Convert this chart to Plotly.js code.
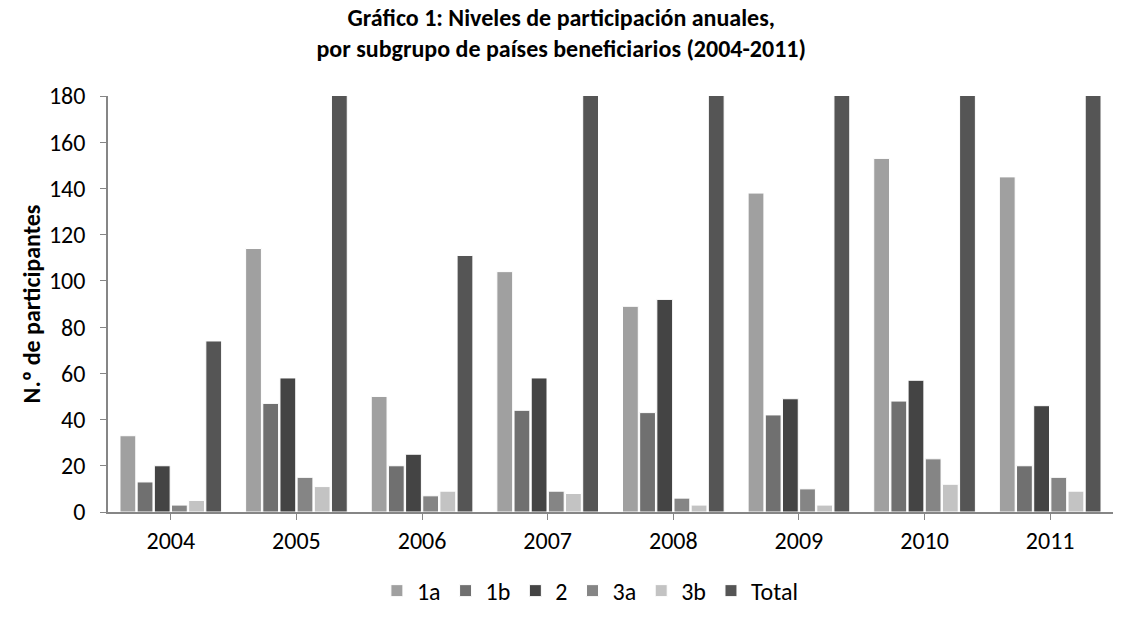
<!DOCTYPE html>
<html><head><meta charset="utf-8">
<script src="https://cdn.plot.ly/plotly-3.0.1.min.js"></script>
<style>body{margin:0;background:#fff}#c{width:1124px;height:630px}</style>
</head><body><div id="c"></div>
<script>
const years = ['2004','2005','2006','2007','2008','2009','2010','2011'];
const s1a = [33, 114, 50, 104, 89, 138, 153, 145];
const s1b = [13, 47, 20, 44, 43, 42, 48, 20];
const s2 = [20, 58, 25, 58, 92, 49, 57, 46];
const s3a = [3, 15, 7, 9, 6, 10, 23, 15];
const s3b = [5, 11, 9, 8, 3, 3, 12, 9];
const sTotal = [74, 245, 111, 223, 233, 242, 293, 235];
const names = ['1a','1b','2','3a','3b','Total'];
const colors = ['#a0a0a0','#707070','#444444','#858585','#c3c3c3','#555555'];
const titleLines = ['Gráfico 1: Niveles de participación anuales,', 'por subgrupo de países beneficiarios (2004-2011)'];
const series = [s1a, s1b, s2, s3a, s3b, sTotal];
const traces = series.map((v,i)=>({
  type:'bar', name:names[i], x:years, y:v,
  marker:{color:colors[i], line:{color:'#ffffff', width:1}}
}));
const font = 'Carlito, Calibri, "Open Sans", "Liberation Sans", sans-serif';
Plotly.newPlot('c', traces, {
  width:1124, height:630,
  margin:{l:108, r:11, t:96, b:118},
  paper_bgcolor:'#fff', plot_bgcolor:'#fff',
  font:{family:font, size:24, color:'#000'},
  title:{text:'<b>'+titleLines[0]+'<br>'+titleLines[1]+'</b>', xref:'paper', x:0.451, xanchor:'center',
    yref:'container', y:1, yanchor:'top', pad:{t:26}, font:{size:24, color:'#000'}},
  barmode:'group', bargap:0.18, bargroupgap:0.08,
  xaxis:{showline:true, linecolor:'#868686', linewidth:1.5, ticks:'outside', tickcolor:'#868686',
    ticklen:6, tickson:'boundaries', showgrid:false, tickfont:{size:24}},
  yaxis:{range:[0,180], dtick:20, showline:true, linecolor:'#868686', linewidth:1.5,
    ticks:'outside', tickcolor:'#868686', ticklen:6, showgrid:false, zeroline:false,
    tickfont:{size:24}, ticklabelstandoff:10,
    title:{text:'<b>N.º de participantes</b>', font:{size:24}, standoff:2}},
  showlegend:true,
  legend:{orientation:'h', x:0.48, xanchor:'center', y:-0.19, yanchor:'middle', font:{size:24},
    itemwidth:30, traceorder:'normal'}
}, {displayModeBar:false});
</script></body></html>
